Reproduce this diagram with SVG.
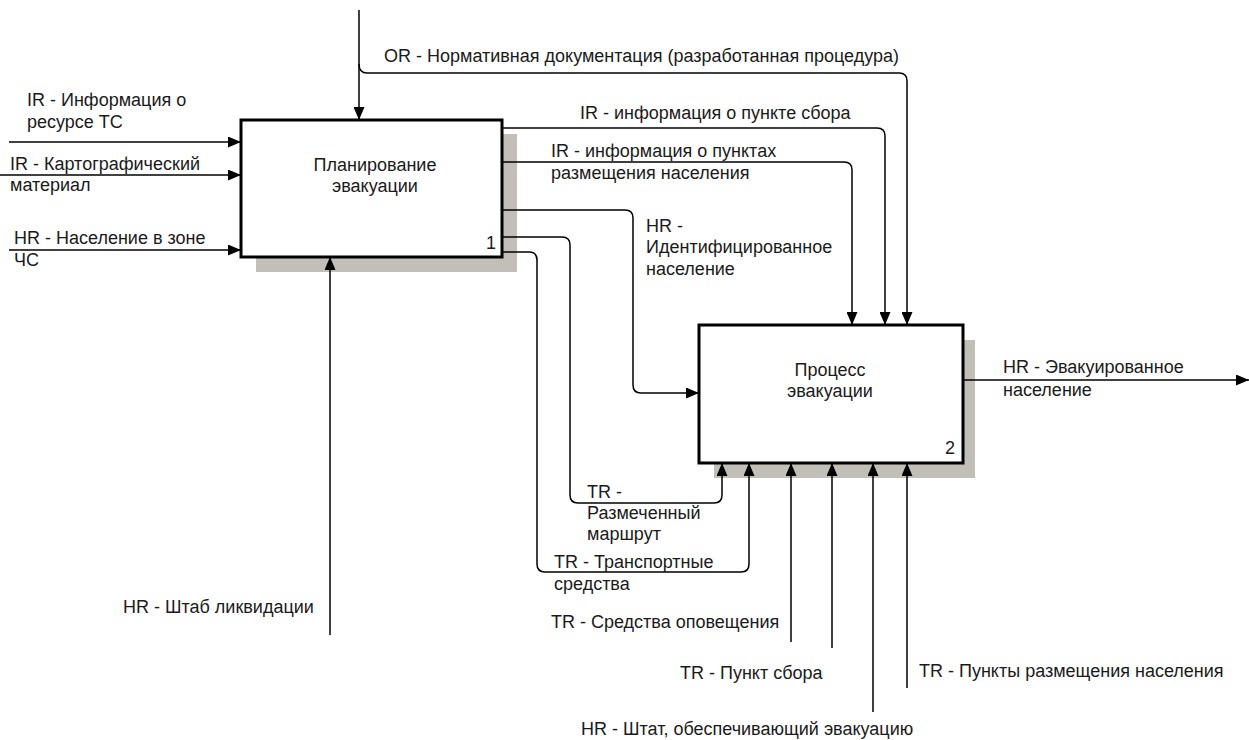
<svg xmlns="http://www.w3.org/2000/svg" width="1249" height="740" viewBox="0 0 1249 740">
<style>
text{font-family:"Liberation Sans",Arial,sans-serif;font-size:18px;fill:#1a1a1a}
.c{text-anchor:middle}
.box{fill:#fff;stroke:#000;stroke-width:3}
.sh{fill:#c2bfb8}
.ln{fill:none;stroke:#000;stroke-width:1.5}
</style>
<defs>
<marker id="ah" markerUnits="userSpaceOnUse" viewBox="0 0 13 11" markerWidth="13" markerHeight="11" refX="13" refY="5.5" orient="auto">
<path d="M0,0 L13,5.5 L0,11 z" fill="#000"/>
</marker>
</defs>
<rect x="0" y="0" width="1249" height="740" fill="#fff"/>
<g id="node1">
<rect class="sh" x="256" y="134" width="261" height="138"/>
<rect class="box" x="241" y="120" width="261" height="137"/>
<text class="c" x="375" y="171">Планирование</text>
<text class="c" x="375" y="192">эвакуации</text>
<text x="486" y="249">1</text>
</g>
<g id="node2">
<rect class="sh" x="714" y="340" width="261" height="138"/>
<rect class="box" x="699" y="325" width="264" height="138"/>
<text class="c" x="830" y="376">Процесс</text>
<text class="c" x="830" y="397">эвакуации</text>
<text x="945" y="454">2</text>
</g>
<g id="connectors">
<path class="ln" d="M359,10 L359,120" marker-end="url(#ah)"/>
<path class="ln" d="M359,64 Q359,73 367,73 L899,73 Q907,73 907,81 L907,325" marker-end="url(#ah)"/>
<path class="ln" d="M502,128 L877,128 Q885,128 885,136 L885,325" marker-end="url(#ah)"/>
<path class="ln" d="M502,162 L844,162 Q852,162 852,170 L852,325" marker-end="url(#ah)"/>
<path class="ln" d="M502,210 L625,210 Q633,210 633,218 L633,385 Q633,393 641,393 L699,393" marker-end="url(#ah)"/>
<path class="ln" d="M502,237 L562,237 Q570,237 570,245 L570,495 Q570,503 578,503 L714,503 Q722,503 722,495 L722,463" marker-end="url(#ah)"/>
<path class="ln" d="M502,252 L529,252 Q537,252 537,260 L537,564 Q537,572 545,572 L741,572 Q749,572 749,564 L749,463" marker-end="url(#ah)"/>
<path class="ln" d="M791,642 L791,463" marker-end="url(#ah)"/>
<path class="ln" d="M832,648 L832,463" marker-end="url(#ah)"/>
<path class="ln" d="M873,712 L873,463" marker-end="url(#ah)"/>
<path class="ln" d="M907,688 L907,463" marker-end="url(#ah)"/>
<path class="ln" d="M963,380 L1249,380" marker-end="url(#ah)"/>
<path class="ln" d="M9,142 L241,142" marker-end="url(#ah)"/>
<path class="ln" d="M0,175 L241,175" marker-end="url(#ah)"/>
<path class="ln" d="M9,250 L241,250" marker-end="url(#ah)"/>
<path class="ln" d="M330,635 L330,257" marker-end="url(#ah)"/>
</g>
<g id="labels">
<text x="384" y="62">OR - Нормативная документация (разработанная процедура)</text>
<text x="580" y="119">IR - информация о пункте сбора</text>
<text x="551" y="157">IR - информация о пунктах</text>
<text x="551" y="179">размещения населения</text>
<text x="646" y="232">HR -</text>
<text x="646" y="253">Идентифицированное</text>
<text x="646" y="275">население</text>
<text x="587" y="498">TR -</text>
<text x="587" y="519">Размеченный</text>
<text x="587" y="540">маршрут</text>
<text x="554" y="568">TR - Транспортные</text>
<text x="554" y="590">средства</text>
<text x="1003" y="373">HR - Эвакуированное</text>
<text x="1003" y="396">население</text>
<text x="27" y="106">IR - Информация о</text>
<text x="27" y="128">ресурсе ТС</text>
<text x="10" y="170">IR - Картографический</text>
<text x="10" y="191">материал</text>
<text x="14" y="244">HR - Население в зоне</text>
<text x="14" y="266">ЧС</text>
<text x="123" y="613">HR - Штаб ликвидации</text>
<text x="551" y="628">TR - Средства оповещения</text>
<text x="680" y="679">TR - Пункт сбора</text>
<text x="919" y="677">TR - Пункты размещения населения</text>
<text x="581" y="735">HR - Штат, обеспечивающий эвакуацию</text>
</g>
</svg>
